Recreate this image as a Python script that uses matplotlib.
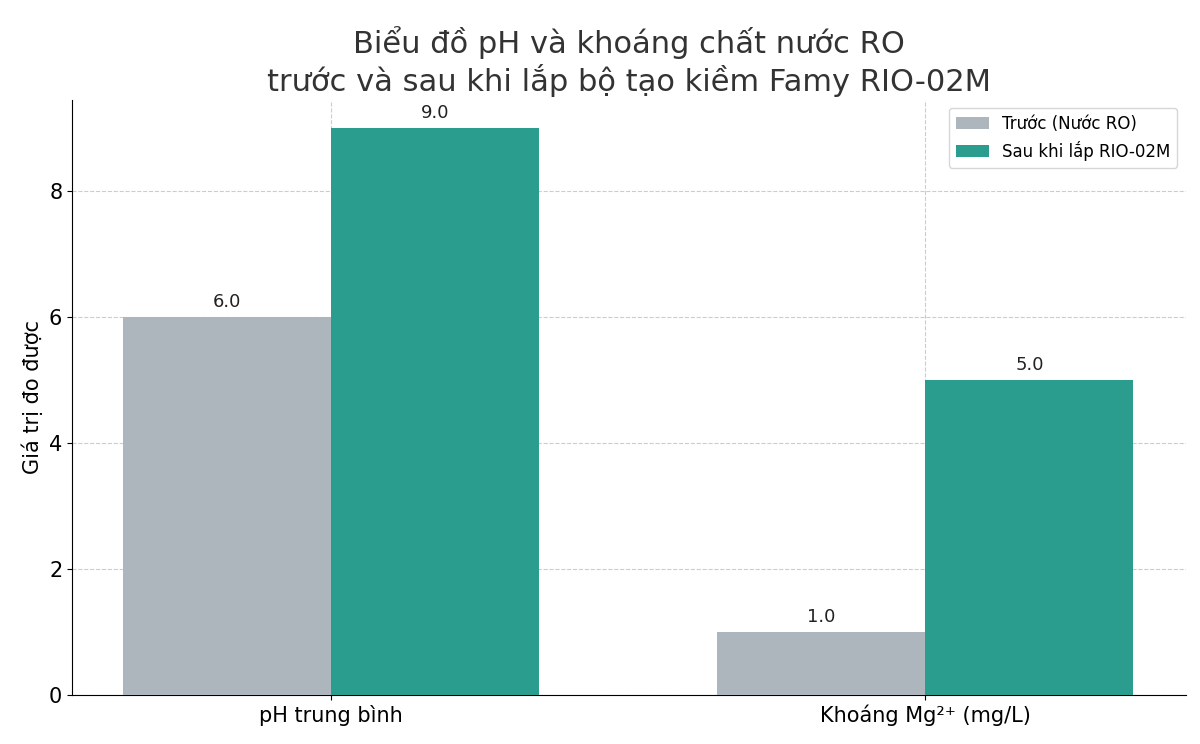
import numpy as np
import matplotlib
matplotlib.use("Agg")
import matplotlib.pyplot as plt

categories = ["pH trung bình", "Khoáng Mg²⁺ (mg/L)"]
before = [6.0, 1.0]
after = [9.0, 5.0]
labels = ["Trước (Nước RO)", "Sau khi lắp RIO-02M"]

plt.rcParams['font.family'] = ['DejaVu Sans']
fig, ax = plt.subplots(figsize=(12, 7.44), dpi=100)
fig.subplots_adjust(left=0.06, right=0.988, top=0.866, bottom=0.066)

x = np.arange(len(categories))
w = 0.35
b1 = ax.bar(x - w/2, before, w, color="#adb5bd", label=labels[0], zorder=3)
b2 = ax.bar(x + w/2, after, w, color="#2a9d8f", label=labels[1], zorder=3)
for bars in (b1, b2):
    for r in bars:
        ax.text(r.get_x() + r.get_width()/2, r.get_height() + 0.1, f"{r.get_height():.1f}",
                ha="center", va="bottom", fontsize=13, color="#222222")

ax.set_xticks(x)
ax.set_xticklabels(categories, fontsize=15)
ax.tick_params(axis="y", labelsize=15)
ax.set_ylabel("Giá trị đo được", fontsize=15)
ax.set_title("Biểu đồ pH và khoáng chất nước RO\ntrước và sau khi lắp bộ tạo kiềm Famy RIO-02M",
             fontsize=22, color="#333333")
ax.set_xlim(-0.436, 1.438)
ax.set_ylim(0, 9.45)
ax.grid(True, linestyle="--", color="#cccccc", linewidth=0.8, zorder=0)
ax.spines["top"].set_visible(False)
ax.spines["right"].set_visible(False)
ax.legend(loc="upper right", fontsize=12)
fig.savefig("out.png")
